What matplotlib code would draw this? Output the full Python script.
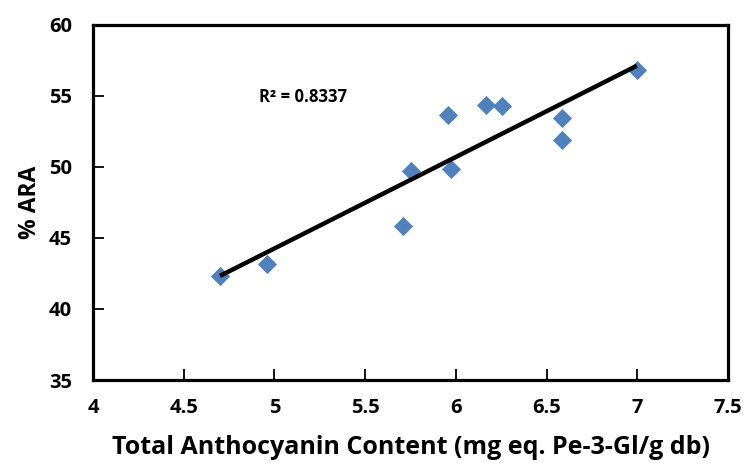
import numpy as np
import matplotlib
matplotlib.use("Agg")
import matplotlib.pyplot as plt

tac = [4.70, 4.96, 5.71, 5.755, 5.957, 5.975, 6.167, 6.255, 6.584, 6.584, 6.997]
ara = [42.34, 43.16, 45.81, 49.70, 53.64, 49.84, 54.34, 54.27, 53.42, 51.90, 56.80]
x_ticks = [4, 4.5, 5, 5.5, 6, 6.5, 7, 7.5]
y_ticks = [35, 40, 45, 50, 55, 60]

plt.rcParams['font.family'] = ['Open Sans', 'DejaVu Sans']

fig = plt.figure(figsize=(7.44, 4.68), dpi=100)
ax = fig.add_axes([93/744, 1-380/468, (728-93)/744, (380-24.5)/468])

ax.scatter(tac, ara, marker='D', s=95, color='#4F81BD', zorder=2, linewidths=0)

coef = np.polyfit(tac, ara, 1)
xs = np.array([min(tac), max(tac)])
ax.plot(xs, np.polyval(coef, xs), color='black', lw=3.2, zorder=3, solid_capstyle='butt')

ax.text(4.913, 54.9, 'R² = 0.8337', fontsize=12, fontweight='bold', ha='left', va='center')

ax.set_xlim(4, 7.5)
ax.set_ylim(35, 60)
ax.set_xticks(x_ticks)
ax.set_xticklabels(['4', '4.5', '5', '5.5', '6', '6.5', '7', '7.5'])
ax.set_yticks(y_ticks)
ax.tick_params(direction='in', length=8, width=1.3, labelsize=14.5)
ax.tick_params(axis='x', pad=13)
ax.tick_params(axis='y', pad=15)
for lab in ax.get_xticklabels() + ax.get_yticklabels():
    lab.set_fontweight('bold')
for s in ax.spines.values():
    s.set_linewidth(2.3)

ax.set_xlabel('Total Anthocyanin Content (mg eq. Pe-3-Gl/g db)', fontsize=18, fontweight='bold', labelpad=12)
ax.set_ylabel('% ARA', fontsize=16.5, fontweight='bold', labelpad=5)

fig.savefig('out.png', dpi=100)
